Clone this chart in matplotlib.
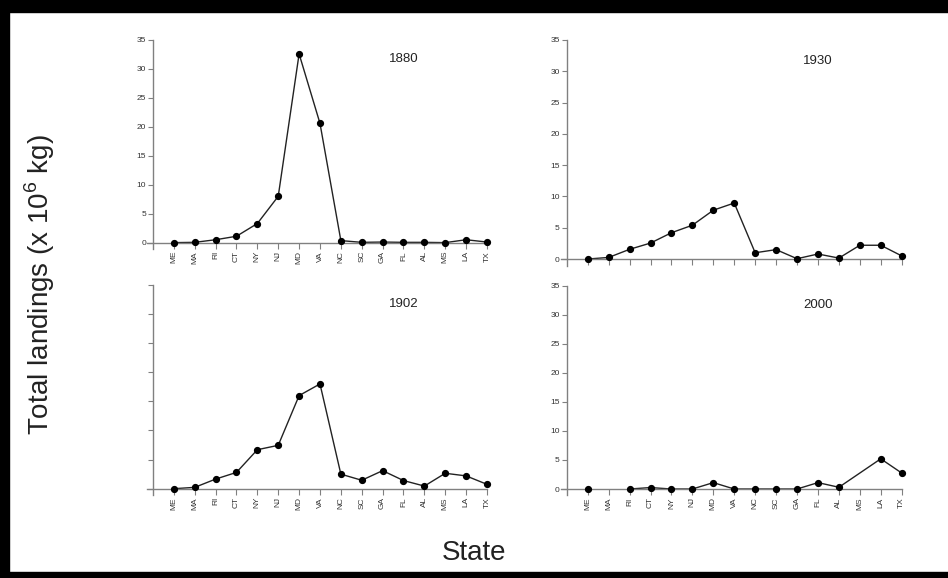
import numpy as np
import matplotlib
matplotlib.use('Agg')
import matplotlib.pyplot as plt
from matplotlib.patches import Rectangle

plt.rcParams['font.family'] = ['Liberation Sans', 'DejaVu Sans']
plt.rcParams['mathtext.fontset'] = 'custom'
plt.rcParams['mathtext.rm'] = 'Liberation Sans'

states = ['ME', 'MA', 'RI', 'CT', 'NY', 'NJ', 'MD', 'VA',
          'NC', 'SC', 'GA', 'FL', 'AL', 'MS', 'LA', 'TX']

# landings, millions of kg
y1880 = [0, 0.05, 0.5, 1.1, 3.3, 8.0, 32.6, 20.6, 0.35, 0.05, 0.1, 0.05, 0.05, 0, 0.5, 0.1]
y1930 = [0, 0.25, 1.55, 2.55, 4.2, 5.4, 7.8, 8.95, 1.0, 1.5, 0.05, 0.8, 0.15, 2.2, 2.2, 0.5]
y1902 = [0, 0.23, 1.65, 2.8, 6.7, 7.45, 16.0, 18.0, 2.5, 1.45, 3.1, 1.4, 0.45, 2.65, 2.2, 0.75]
y2000 = [0, np.nan, 0, 0.25, 0, 0, 1.1, 0, 0, 0, 0, 1.1, 0.3, np.nan, 5.2, 2.75]

W, H = 948, 578
fig = plt.figure(figsize=(W / 100, H / 100), dpi=100)

def px_box(x0, x1, ytop, ybot):
    return [x0 / W, 1 - ybot / H, (x1 - x0) / W, (ybot - ytop) / H]

panels = [
    ('1880', y1880, px_box(146.7, 487, 40, 249), True, True),
    ('1930', y1930, px_box(560.5, 901.7, 40, 265.9), False, True),
    ('1902', y1902, px_box(146.7, 487, 285, 495.1), True, False),
    ('2000', y2000, px_box(560.5, 901.7, 285.7, 495.4), True, True),
]

x = np.arange(len(states))
axcol = '#808080'
for year, vals, box, xlab, ylab in panels:
    ax = fig.add_axes(box)
    vals = np.array(vals, dtype=float)
    ok = ~np.isnan(vals)
    if year == '2000':
        # ME stands alone (MA missing), the rest is joined
        line = ok & (x >= 2)
        ax.plot(x[line], vals[line], color='#222222', lw=1.0, clip_on=False)
    else:
        ax.plot(x, vals, color='#222222', lw=1.0, clip_on=False)
    ax.plot(x[ok], vals[ok], 'o', color='black', ms=4.2, clip_on=False, zorder=3)

    ax.set_xlim(-1.3, 15)
    ax.set_ylim(-1.1, 35)
    ax.spines['top'].set_visible(False)
    ax.spines['right'].set_visible(False)
    ax.spines['bottom'].set_position(('data', 0))
    ax.spines['left'].set_position(('data', -1.0))
    for s in ('bottom', 'left'):
        ax.spines[s].set_color(axcol)
        ax.spines[s].set_linewidth(1.0)
    ax.set_xticks(x)
    ax.set_xticklabels(states if xlab else [], rotation=90)
    ax.set_yticks(np.arange(0, 36, 5))
    if not ylab:
        ax.set_yticklabels([])
    ax.tick_params(axis='x', direction='out', length=4, width=0.8, color=axcol,
                   labelsize=6, labelcolor='#333333', pad=2)
    ax.tick_params(axis='y', direction='out', length=3.5, width=0.8, color=axcol,
                   labelsize=6, labelcolor='#333333', pad=1.5)
    ax.patch.set_visible(False)
    ax.text(11, 31.7, year, ha='center', va='center', fontsize=9.5, color='#222222')

fig.text(40 / W, 1 - 285 / H, r'Total landings (x 10$^6$ kg)', rotation=90,
         ha='center', va='center', fontsize=20, color='#222222')
fig.text(474 / W, 1 - 553 / H, 'State', ha='center', va='center',
         fontsize=20, color='#222222')

# black frame on top, left and bottom edges
for rect in [(0, 1 - 12 / H, 1, 12 / H), (0, 0, 9 / W, 1), (0, 0, 1, 6 / H)]:
    fig.patches.append(Rectangle(rect[:2], rect[2], rect[3], transform=fig.transFigure,
                                 color='black', zorder=10))

fig.savefig('out.png', dpi=100)
